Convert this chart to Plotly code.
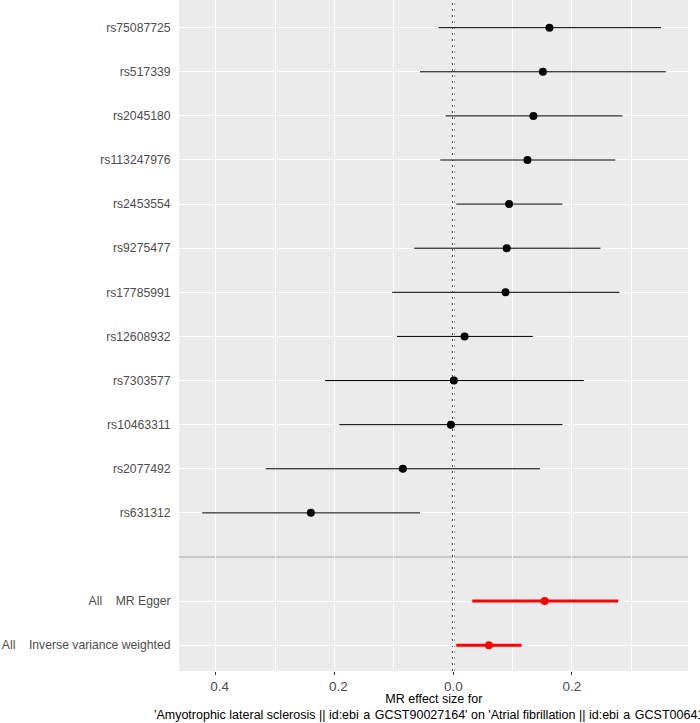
import plotly.graph_objects as go

# ---- data (top to bottom as shown) ----
snps = ["rs75087725", "rs517339", "rs2045180", "rs113247976", "rs2453554",
        "rs9275477", "rs17785991", "rs12608932", "rs7303577", "rs10463311",
        "rs2077492", "rs631312"]
snp_b = [0.162, 0.151, 0.135, 0.125, 0.094, 0.090, 0.088, 0.019, 0.001, -0.004, -0.085, -0.240]
snp_lo = [-0.025, -0.056, -0.013, -0.022, 0.005, -0.066, -0.103, -0.095, -0.216, -0.192, -0.316, -0.423]
snp_hi = [0.350, 0.358, 0.285, 0.273, 0.184, 0.248, 0.280, 0.134, 0.220, 0.184, 0.146, -0.056]

methods = ["All\u00a0\u00a0\u00a0 MR Egger", "All\u00a0\u00a0\u00a0 Inverse variance weighted"]
meth_b = [0.154, 0.060]
meth_lo = [0.032, 0.005]
meth_hi = [0.278, 0.115]

x_tickvals = [-0.4, -0.2, 0.0, 0.2]
x_ticktext = ["\u20070.4", "\u20070.2", "0.0", "0.2"]
x_minor = [-0.3, -0.1, 0.1, 0.3]

x_title1 = "MR effect size for"
x_title2 = ("'Amyotrophic lateral sclerosis || id:ebi\u00a0\u200aa\u00a0\u200aGCST90027164' on "
            "'Atrial fibrillation || id:ebi\u00a0\u200aa\u00a0\u200aGCST006414'")

# ---- positions (rows from bottom) ----
n_m = len(methods)
meth_y = [n_m - 1 - i for i in range(n_m)]          # Egger=1, IVW=0
sep_y = n_m                                          # separator slot
snp_y = [sep_y + len(snps) - i for i in range(len(snps))]

fig = go.Figure()

fig.add_trace(go.Scatter(
    x=snp_b, y=snp_y, mode="markers",
    marker=dict(color="black", size=8),
    error_x=dict(type="data", symmetric=False,
                 array=[h - b for h, b in zip(snp_hi, snp_b)],
                 arrayminus=[b - l for l, b in zip(snp_lo, snp_b)],
                 color="black", thickness=1, width=0),
    showlegend=False, hoverinfo="skip"))

fig.add_trace(go.Scatter(
    x=meth_b, y=meth_y, mode="markers",
    marker=dict(color="#FF0000", size=8),
    error_x=dict(type="data", symmetric=False,
                 array=[h - b for h, b in zip(meth_hi, meth_b)],
                 arrayminus=[b - l for l, b in zip(meth_lo, meth_b)],
                 color="#FF0000", thickness=3, width=0),
    showlegend=False, hoverinfo="skip"))

# separator line and zero line
fig.add_shape(type="line", xref="paper", x0=0, x1=1, yref="y", y0=sep_y, y1=sep_y,
              line=dict(color="#BDBDBD", width=1.6), layer="between")
fig.add_shape(type="line", xref="x", x0=0, x1=0, yref="paper", y0=0, y1=1,
              line=dict(color="black", width=2, dash="2px,4px"), layer="between")

fig.update_layout(
    width=700, height=723,
    margin=dict(l=179, r=12, t=0, b=52),
    paper_bgcolor="white", plot_bgcolor="#EBEBEB",
    font=dict(family="Liberation Sans, Arial, sans-serif"),
    xaxis=dict(range=[-0.4622, 0.3955], tickmode="array",
               tickvals=x_tickvals, ticktext=x_ticktext,
               ticks="outside", ticklen=3, tickwidth=1, tickcolor="#333333",
               tickfont=dict(size=13.5, color="#4D4D4D"),
               showgrid=True, gridcolor="white", gridwidth=1.4,
               minor=dict(tickmode="array", tickvals=x_minor, showgrid=True,
                          gridcolor="white", gridwidth=0.7, ticks=""),
               zeroline=False, showline=False),
    yaxis=dict(range=[-0.585, 14.627], tickmode="array",
               tickvals=snp_y + meth_y, ticktext=snps + methods,
               ticks="outside", ticklen=5, tickcolor="rgba(0,0,0,0)",
               tickfont=dict(size=12.2, color="#4D4D4D"),
               showgrid=True, gridcolor="white", gridwidth=1.4,
               zeroline=False, showline=False),
)

fig.add_annotation(text=x_title1 + "<br>" + x_title2, xref="paper", yref="paper",
                   x=0.5, y=-0.053, xanchor="center", yanchor="middle",
                   align="center", showarrow=False,
                   font=dict(size=12.5, color="black"))

fig.write_html("out.html")
